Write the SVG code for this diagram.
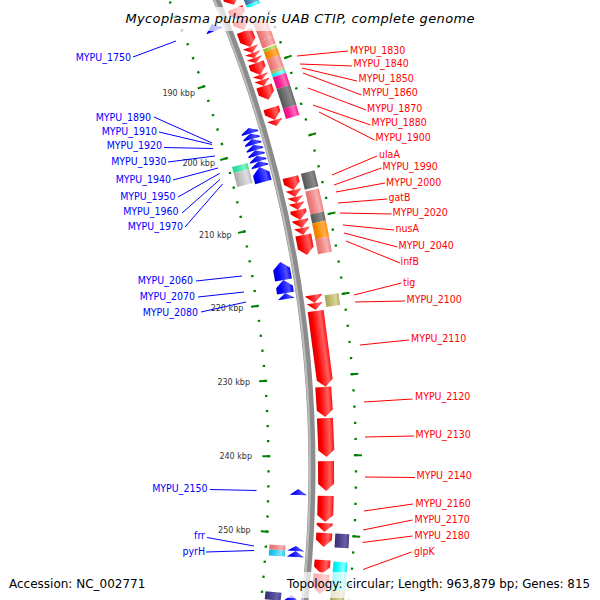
<svg xmlns="http://www.w3.org/2000/svg" width="600" height="600" viewBox="0 0 600 600">
<defs>
<linearGradient id="gR" x1="0" x2="1" y1="0" y2="0"><stop offset="0" stop-color="#d80000"/><stop offset=".25" stop-color="#ff0000"/><stop offset=".75" stop-color="#ff6060"/><stop offset="1" stop-color="#ff1010"/></linearGradient>
<linearGradient id="gB" x1="0" x2="1" y1="0" y2="0"><stop offset="0" stop-color="#0000c8"/><stop offset=".25" stop-color="#0000ff"/><stop offset=".75" stop-color="#5050ff"/><stop offset="1" stop-color="#0000f0"/></linearGradient>
<linearGradient id="gLC" x1="0" x2="1" y1="0" y2="0"><stop offset="0" stop-color="#e07070"/><stop offset=".3" stop-color="#f08080"/><stop offset=".75" stop-color="#f8b0b0"/><stop offset="1" stop-color="#f08080"/></linearGradient>
<linearGradient id="gDG" x1="0" x2="1" y1="0" y2="0"><stop offset="0" stop-color="#555"/><stop offset=".3" stop-color="#696969"/><stop offset=".75" stop-color="#8a8a8a"/><stop offset="1" stop-color="#666"/></linearGradient>
<linearGradient id="gOr" x1="0" x2="1" y1="0" y2="0"><stop offset="0" stop-color="#e67a00"/><stop offset=".3" stop-color="#ff8c00"/><stop offset=".75" stop-color="#ffb050"/><stop offset="1" stop-color="#ff8c00"/></linearGradient>
<linearGradient id="gDP" x1="0" x2="1" y1="0" y2="0"><stop offset="0" stop-color="#e0107f"/><stop offset=".3" stop-color="#ff1493"/><stop offset=".75" stop-color="#ff70b8"/><stop offset="1" stop-color="#ff1493"/></linearGradient>
<linearGradient id="gKh" x1="0" x2="1" y1="0" y2="0"><stop offset="0" stop-color="#a8a25a"/><stop offset=".3" stop-color="#bdb76b"/><stop offset=".75" stop-color="#d8d4a0"/><stop offset="1" stop-color="#b5af65"/></linearGradient>
<linearGradient id="gCy" x1="0" x2="1" y1="0" y2="0"><stop offset="0" stop-color="#00e0e0"/><stop offset=".3" stop-color="#00ffff"/><stop offset=".75" stop-color="#90ffff"/><stop offset="1" stop-color="#00f0f0"/></linearGradient>
<linearGradient id="gSB" x1="0" x2="1" y1="0" y2="0"><stop offset="0" stop-color="#3a3070"/><stop offset=".3" stop-color="#483d8b"/><stop offset=".75" stop-color="#6a60a8"/><stop offset="1" stop-color="#483d8b"/></linearGradient>
<linearGradient id="gSt" x1="0" x2="1" y1="0" y2="0"><stop offset="0" stop-color="#3a70a0"/><stop offset=".3" stop-color="#4682b4"/><stop offset=".75" stop-color="#80aad0"/><stop offset="1" stop-color="#4682b4"/></linearGradient>
<linearGradient id="gYG" x1="0" x2="1" y1="0" y2="0"><stop offset="0" stop-color="#8ab82a"/><stop offset=".3" stop-color="#9acd32"/><stop offset=".75" stop-color="#c0e080"/><stop offset="1" stop-color="#9acd32"/></linearGradient>
<linearGradient id="gSi" x1="0" x2="1" y1="0" y2="0"><stop offset="0" stop-color="#a8a8a8"/><stop offset=".3" stop-color="#c0c0c0"/><stop offset=".75" stop-color="#dedede"/><stop offset="1" stop-color="#bbbbbb"/></linearGradient>
<linearGradient id="gAq" x1="0" x2="1" y1="0" y2="0"><stop offset="0" stop-color="#2ad090"/><stop offset=".3" stop-color="#33e6a0"/><stop offset=".75" stop-color="#80f0c8"/><stop offset="1" stop-color="#33e6a0"/></linearGradient>
<linearGradient id="gDS" x1="0" x2="1" y1="0" y2="0"><stop offset="0" stop-color="#10b8e0"/><stop offset=".3" stop-color="#20ccf0"/><stop offset=".75" stop-color="#80e4f8"/><stop offset="1" stop-color="#20ccf0"/></linearGradient>
</defs>
<style>
.lr{font-family:"DejaVu Sans Condensed","DejaVu Sans",sans-serif;font-stretch:condensed;font-size:10.5px;fill:#ff0000}
.lb{font-family:"DejaVu Sans Condensed","DejaVu Sans",sans-serif;font-stretch:condensed;font-size:10.5px;fill:#0000ff;text-anchor:end}
.tk{font-family:"DejaVu Sans",sans-serif;font-size:8px;fill:#333;text-anchor:end}
.info{font-family:"DejaVu Sans",sans-serif;font-size:12px;fill:#000}
.title{font-family:"DejaVu Sans",sans-serif;font-size:13px;font-style:italic;fill:#000;text-anchor:middle}
.fr{fill:url(#gR)}.fb{fill:url(#gB)}.cLC{fill:url(#gLC)}.cDG{fill:url(#gDG)}.cOr{fill:url(#gOr)}.cDP{fill:url(#gDP)}
.cKh{fill:url(#gKh)}.cCy{fill:url(#gCy)}.cSB{fill:url(#gSB)}.cSt{fill:url(#gSt)}.cYG{fill:url(#gYG)}.cSi{fill:url(#gSi)}.cAq{fill:url(#gAq)}.cDS{fill:url(#gDS)}
.box{fill:#fff;fill-opacity:.7}
</style>
<rect width="600" height="600" fill="#fff"/>
<g id="map" transform="translate(-888 469)">
 <g id="backbone" fill="none">
  <circle r="1200" stroke="#8c8c8c" stroke-width="7"/>
  <circle r="1198" stroke="#bdbdbd" stroke-width="2"/>
 </g>
 <g id="ticks" fill="none" stroke="#008000" transform="rotate(-26.779)">
  <circle r="1156.5" stroke-width="2.4" stroke-dasharray="2.2 12.8775" stroke-dashoffset="1.1"/>
  <circle r="1154.5" stroke-width="8" stroke-dasharray="2 73.257" stroke-dashoffset="1"/>
  <circle r="1244" stroke-width="2.4" stroke-dasharray="2.2 14.0183" stroke-dashoffset="1.1"/>
  <circle r="1246" stroke-width="8" stroke-dasharray="2 79.2216" stroke-dashoffset="1"/>
 </g>
 <g id="forward-genes" class="fr">
  <polygon transform="rotate(-23.75)" points="1206,0 1222,0 1222,20.1 1214,27.1 1206,20.1"/>
  <polygon transform="rotate(-22.31)" points="1206,0 1222,0 1222,5.9 1214,12.9 1206,5.9"/>
  <polygon transform="rotate(-21.7)" points="1206,0 1222,0 1222,3.7 1214,10.7 1206,3.7"/>
  <polygon transform="rotate(-21.144)" points="1206,0 1222,0 1222,10 1214,17 1206,10"/>
  <polygon transform="rotate(-20.34)" points="1206,0 1222,0 1214,6.4"/>
  <polygon transform="rotate(-20.04)" points="1206,0 1222,0 1214,5.3"/>
  <polygon transform="rotate(-19.79)" points="1206,0 1222,0 1214,5.3"/>
  <polygon transform="rotate(-19.54)" points="1206,0 1222,0 1222,5.7 1214,12.7 1206,5.7"/>
  <polygon transform="rotate(-18.94)" points="1206,0 1222,0 1214,5.3"/>
  <polygon transform="rotate(-18.69)" points="1206,0 1222,0 1214,6.4"/>
  <polygon transform="rotate(-18.39)" points="1206,0 1222,0 1222,7.6 1214,14.6 1206,7.6"/>
  <polygon transform="rotate(-17.3)" points="1206,0 1222,0 1222,5.5 1214,12.5 1206,5.5"/>
  <polygon transform="rotate(-16.71)" points="1206,0 1222,0 1214,6.4"/>
  <polygon transform="rotate(-13.915)" points="1206,0 1222,0 1222,6.3 1214,13.3 1206,6.3"/>
  <polygon transform="rotate(-13.285)" points="1206,0 1222,0 1214,7.2"/>
  <polygon transform="rotate(-12.945)" points="1206,0 1222,0 1214,6.1"/>
  <polygon transform="rotate(-12.656)" points="1206,0 1222,0 1214,7.1"/>
  <polygon transform="rotate(-12.32)" points="1206,0 1222,0 1222,3.2 1214,10.2 1206,3.2"/>
  <polygon transform="rotate(-11.84)" points="1206,0 1222,0 1222,1.2 1214,8.2 1206,1.2"/>
  <polygon transform="rotate(-11.452)" points="1206,0 1222,0 1214,7.2"/>
  <polygon transform="rotate(-11.11)" points="1206,0 1222,0 1222,13.2 1214,20.2 1206,13.2"/>
  <polygon transform="rotate(-8.24)" points="1206,0 1222,0 1222,1.1 1214,8.1 1206,1.1"/>
  <polygon transform="rotate(-7.857)" points="1206,0 1222,0 1214,7"/>
  <polygon transform="rotate(-7.478)" points="1206,0 1222,0 1222,69.4 1214,76.4 1206,69.4"/>
  <polygon transform="rotate(-3.871)" points="1206,0 1222,0 1222,23.1 1214,30.1 1206,23.1"/>
  <polygon transform="rotate(-2.405)" points="1206,0 1222,0 1222,32.1 1214,39.1 1206,32.1"/>
  <polygon transform="rotate(-0.373)" points="1206,0 1222,0 1222,22.8 1214,29.8 1206,22.8"/>
  <polygon transform="rotate(1.27)" points="1206,0 1222,0 1222,19.2 1214,26.2 1206,19.2"/>
  <polygon transform="rotate(2.552)" points="1206,0 1222,0 1222,2 1214,9 1206,2"/>
  <polygon transform="rotate(3.022)" points="1206,0 1222,0 1222,6.9 1214,13.9 1206,6.9"/>
  <polygon transform="rotate(4.3)" points="1206,0 1222,0 1222,7 1214,14 1206,7"/>
  <polygon transform="rotate(4.96)" points="1206,0 1222,0 1222,13.1 1214,20.1 1206,13.1"/>
 </g>
 <g id="reverse-genes" class="fb">
  <polygon transform="rotate(-22.028)" points="1186.5,0 1195,7 1195,7.5 1178,7.5 1178,7"/>
  <g transform="rotate(-16.703)">
   <polygon points="1186.5,0 1195,4.5 1195,5.8 1178,5.8 1178,4.5"/>
   <polygon points="1186.5,5.8 1195,10.3 1195,11.6 1178,11.6 1178,10.3"/>
   <polygon points="1186.5,11.6 1195,16.1 1195,17.4 1178,17.4 1178,16.1"/>
   <polygon points="1186.5,17.4 1195,21.9 1195,23.2 1178,23.2 1178,21.9"/>
   <polygon points="1186.5,23.2 1195,27.7 1195,29 1178,29 1178,27.7"/>
   <polygon points="1186.5,29 1195,33.5 1195,34.8 1178,34.8 1178,33.5"/>
   <polygon points="1186.5,34.8 1195,39.3 1195,40.6 1178,40.6 1178,39.3"/>
  </g>
  <polygon transform="rotate(-14.746)" points="1186.5,0 1195,7 1195,15.5 1178,15.5 1178,7"/>
  <polygon transform="rotate(-10.047)" points="1186.5,0 1195,7 1195,18.2 1178,18.2 1178,7"/>
  <polygon transform="rotate(-9.166)" points="1186.5,0 1195,7 1195,13.2 1178,13.2 1178,7"/>
  <polygon transform="rotate(-8.531)" points="1186.5,0 1195,6.1 1178,6.1"/>
  <polygon transform="rotate(0.966)" points="1186.5,0 1195,6 1178,6"/>
  <polygon transform="rotate(3.721)" points="1186.5,0 1195,5 1178,5"/>
  <polygon transform="rotate(3.963)" points="1186.5,0 1195,6 1178,6"/>
  <polygon transform="rotate(6.097)" points="1186.5,0 1195,7 1195,17 1178,17 1178,7"/>
 </g>
 <g id="outer-categories">
  <rect class="cSt" transform="rotate(-22.975)" x="1225" y="0" width="14" height="16.1"/>
  <rect class="cCy" transform="rotate(-22.225)" x="1225" y="0" width="14" height="3.2"/>
  <rect class="cLC" transform="rotate(-21.374)" x="1225" y="0" width="14" height="20.3"/>
  <rect class="cLC" transform="rotate(-20.428)" x="1225" y="0" width="14" height="7.5"/>
  <rect class="cYG" transform="rotate(-20.032)" x="1225" y="0" width="14" height="3.2"/>
  <rect class="cOr" transform="rotate(-19.884)" x="1225" y="0" width="14" height="7.5"/>
  <rect class="cLC" transform="rotate(-19.537)" x="1225" y="0" width="14" height="12.7"/>
  <rect class="cKh" transform="rotate(-18.947)" x="1225" y="0" width="14" height="3.2"/>
  <rect class="cCy" transform="rotate(-18.8)" x="1225" y="0" width="14" height="3.2"/>
  <rect class="cDP" transform="rotate(-18.652)" x="1225" y="0" width="14" height="12.7"/>
  <rect class="cDG" transform="rotate(-18.063)" x="1225" y="0" width="14" height="21"/>
  <rect class="cDP" transform="rotate(-17.086)" x="1225" y="0" width="14" height="10.5"/>
  <rect class="cDG" transform="rotate(-13.948)" x="1225" y="0" width="14" height="16.4"/>
  <rect class="cLC" transform="rotate(-13.089)" x="1225" y="0" width="14" height="23.6"/>
  <rect class="cDG" transform="rotate(-11.993)" x="1225" y="0" width="14" height="9.2"/>
  <rect class="cOr" transform="rotate(-11.565)" x="1225" y="0" width="14" height="16.3"/>
  <rect class="cLC" transform="rotate(-10.808)" x="1225" y="0" width="14" height="15.3"/>
  <rect class="cKh" transform="rotate(-8.154)" x="1225" y="0" width="14" height="11.9"/>
  <rect class="cSB" transform="rotate(3.023)" x="1225" y="0" width="14" height="14"/>
  <rect class="cCy" transform="rotate(4.329)" x="1225" y="0" width="14" height="28.1"/>
  <rect class="cKh" transform="rotate(5.636)" x="1225" y="0" width="14" height="22.1"/>
 </g>
 <g id="inner-categories">
  <rect class="cAq" transform="rotate(-15.087)" x="1160" y="0" width="16" height="6.2"/>
  <rect class="cSi" transform="rotate(-14.782)" x="1160" y="0" width="16" height="14.5"/>
  <rect class="cLC" transform="rotate(3.731)" x="1160" y="0" width="16" height="5"/>
  <rect class="cDS" transform="rotate(3.977)" x="1160" y="0" width="16" height="6"/>
  <rect class="cSB" transform="rotate(6.046)" x="1160" y="0" width="16" height="8"/>
 </g>
</g>
<g id="tick-labels">
 <text class="tk" x="195" y="95.5">190 kbp</text>
 <text class="tk" x="215" y="166">200 kbp</text>
 <text class="tk" x="231.7" y="237.5">210 kbp</text>
 <text class="tk" x="243.3" y="311">220 kbp</text>
 <text class="tk" x="250" y="385">230 kbp</text>
 <text class="tk" x="252" y="459">240 kbp</text>
 <text class="tk" x="250.7" y="533">250 kbp</text>
</g>
<g id="connectors" stroke-width="1">
 <g stroke="#ff0000">
  <line x1="297" y1="56" x2="348" y2="51"/>
  <line x1="300" y1="64" x2="352" y2="66"/>
  <line x1="302" y1="68" x2="357" y2="81"/>
  <line x1="303" y1="73" x2="361.5" y2="95"/>
  <line x1="308" y1="88" x2="366" y2="110"/>
  <line x1="313" y1="105" x2="370.5" y2="125"/>
  <line x1="319" y1="112" x2="374.5" y2="140"/>
  <line x1="332" y1="175" x2="377" y2="156"/>
  <line x1="334" y1="185" x2="381.5" y2="168"/>
  <line x1="336" y1="192" x2="385" y2="183"/>
  <line x1="338" y1="203" x2="387" y2="199"/>
  <line x1="340" y1="213" x2="391.5" y2="214"/>
  <line x1="343" y1="225" x2="394" y2="230"/>
  <line x1="344" y1="233" x2="397.5" y2="247"/>
  <line x1="346" y1="241" x2="400" y2="263"/>
  <line x1="354" y1="295" x2="401.5" y2="283"/>
  <line x1="355" y1="302" x2="405" y2="301"/>
  <line x1="360" y1="345" x2="409" y2="340"/>
  <line x1="364" y1="402" x2="412.5" y2="399"/>
  <line x1="365" y1="437" x2="414" y2="436"/>
  <line x1="365" y1="477" x2="415" y2="477.5"/>
  <line x1="364" y1="511" x2="413" y2="504"/>
  <line x1="363" y1="530" x2="412.5" y2="520"/>
  <line x1="362.5" y1="542.5" x2="412.5" y2="536"/>
  <line x1="363" y1="569.5" x2="411.5" y2="552"/>
 </g>
 <g stroke="#0000ff">
  <line x1="133" y1="57" x2="176" y2="41"/>
  <line x1="154" y1="117" x2="212" y2="143"/>
  <line x1="159" y1="132" x2="212" y2="144.5"/>
  <line x1="164" y1="147.5" x2="213" y2="148.5"/>
  <line x1="168" y1="162" x2="215" y2="156"/>
  <line x1="173" y1="180" x2="218" y2="168"/>
  <line x1="178" y1="197" x2="219.5" y2="173.5"/>
  <line x1="182" y1="213" x2="220" y2="179.5"/>
  <line x1="185" y1="227" x2="222.5" y2="184"/>
  <line x1="196" y1="281" x2="242" y2="276"/>
  <line x1="198" y1="297" x2="244" y2="292"/>
  <line x1="201" y1="312" x2="246" y2="302"/>
  <line x1="210" y1="489.5" x2="256.5" y2="490.5"/>
  <line x1="207" y1="537.5" x2="254" y2="546"/>
  <line x1="206" y1="552" x2="254" y2="550.5"/>
 </g>
</g>
<g id="gene-labels">
 <text class="lr" x="350" y="53.5">MYPU_1830</text>
 <text class="lr" x="353.5" y="67">MYPU_1840</text>
 <text class="lr" x="358.5" y="82">MYPU_1850</text>
 <text class="lr" x="362.5" y="96">MYPU_1860</text>
 <text class="lr" x="367" y="111.5">MYPU_1870</text>
 <text class="lr" x="371.5" y="126">MYPU_1880</text>
 <text class="lr" x="375.5" y="141">MYPU_1900</text>
 <text class="lr" x="379" y="157.5">ulaA</text>
 <text class="lr" x="382.5" y="170">MYPU_1990</text>
 <text class="lr" x="386" y="186">MYPU_2000</text>
 <text class="lr" x="388.5" y="201">gatB</text>
 <text class="lr" x="392.5" y="216">MYPU_2020</text>
 <text class="lr" x="395.5" y="232">nusA</text>
 <text class="lr" x="398.5" y="248.5">MYPU_2040</text>
 <text class="lr" x="400.5" y="265">infB</text>
 <text class="lr" x="403" y="286">tig</text>
 <text class="lr" x="406.5" y="302.5">MYPU_2100</text>
 <text class="lr" x="411" y="342">MYPU_2110</text>
 <text class="lr" x="415" y="400">MYPU_2120</text>
 <text class="lr" x="415.5" y="437.5">MYPU_2130</text>
 <text class="lr" x="416.5" y="479">MYPU_2140</text>
 <text class="lr" x="415.5" y="507">MYPU_2160</text>
 <text class="lr" x="414.5" y="522.5">MYPU_2170</text>
 <text class="lr" x="414.5" y="538.5">MYPU_2180</text>
 <text class="lr" x="414" y="555">glpK</text>
 <text class="lb" x="131" y="61">MYPU_1750</text>
 <text class="lb" x="151" y="121">MYPU_1890</text>
 <text class="lb" x="157" y="134.5">MYPU_1910</text>
 <text class="lb" x="162" y="149">MYPU_1920</text>
 <text class="lb" x="166.5" y="165">MYPU_1930</text>
 <text class="lb" x="171" y="183">MYPU_1940</text>
 <text class="lb" x="175.5" y="199.5">MYPU_1950</text>
 <text class="lb" x="178.5" y="214.5">MYPU_1960</text>
 <text class="lb" x="183" y="230">MYPU_1970</text>
 <text class="lb" x="193" y="284">MYPU_2060</text>
 <text class="lb" x="195" y="300">MYPU_2070</text>
 <text class="lb" x="198" y="316">MYPU_2080</text>
 <text class="lb" x="207.5" y="492">MYPU_2150</text>
 <text class="lb" x="205" y="538.5">frr</text>
 <text class="lb" x="205" y="554.5">pyrH</text>
</g>
<g id="legend">
 <rect class="box" x="119" y="7" width="362" height="24"/>
 <text class="title" x="300" y="22.7" textLength="349" lengthAdjust="spacing">Mycoplasma pulmonis UAB CTIP, complete genome</text>
 <rect class="box" x="5" y="572" width="145" height="26"/>
 <text class="info" x="9" y="587.5">Accession: NC_002771</text>
 <rect class="box" x="283" y="572" width="312" height="26"/>
 <text class="info" x="287" y="587.5" textLength="303" lengthAdjust="spacingAndGlyphs">Topology: circular; Length: 963,879 bp; Genes: 815</text>
</g>
</svg>
